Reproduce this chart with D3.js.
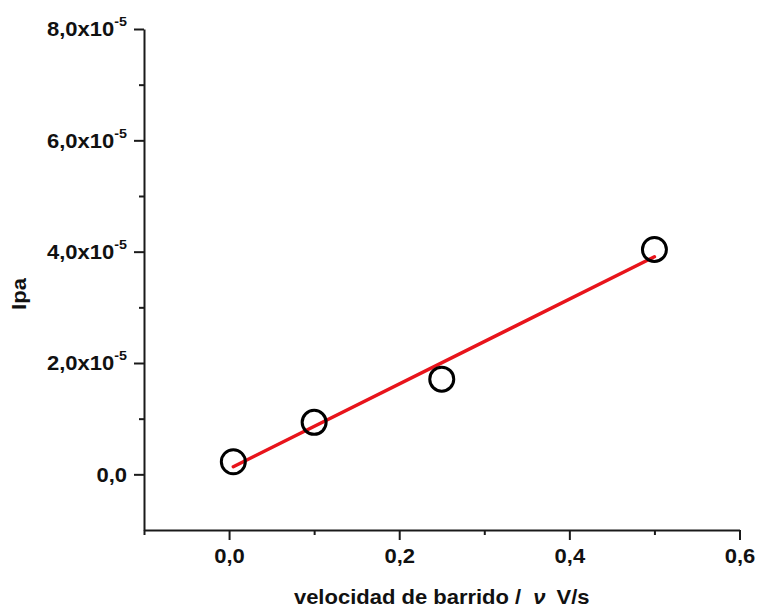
<!DOCTYPE html>
<html>
<head>
<meta charset="utf-8">
<script src="https://cdn.jsdelivr.net/npm/d3@7"></script>
<style>
  html, body { margin: 0; padding: 0; background: #fff; }
  svg { display: block; font-family: "Liberation Sans", Arial, sans-serif; font-weight: bold; }
</style>
</head>
<body>
<svg id="chart" width="760" height="608"></svg>
<script>
// Scan rate (V/s) and anodic peak current (A)
const scanRates = [0.005, 0.1, 0.25, 0.5];
const peakCurrents = [2.26e-6, 9.34e-6, 1.71e-5, 4.04e-5];

// Axis ticks
const xMajorTicks = [0.0, 0.2, 0.4, 0.6];
const xMinorTicks = [-0.1, 0.1, 0.3, 0.5];
const yMajorTicks = [0, 2e-5, 4e-5, 6e-5, 8e-5];
const yMinorTicks = [1e-5, 3e-5, 5e-5, 7e-5];
const yTickMantissa = ["0,0", "2,0", "4,0", "6,0", "8,0"];

const xTitle = "velocidad de barrido /";
const xTitleSymbol = "\u03BD";
const xTitleUnit = "V/s";
const yTitle = "Ipa";

const svg = d3.select("#chart");

const x = d3.scaleLinear().domain([-0.1, 0.6]).range([144, 739.5]);
const y = d3.scaleLinear().domain([-1e-5, 8e-5]).range([530, 29]);

const axisColor = "#1a1a1a";
const fontSize = 20;
const widen = 1.1; // labels are set slightly wide

// stretch a text element horizontally about its anchor point
function stretch(sel, ax) {
  sel.attr("transform", `translate(${ax},0) scale(${widen},1) translate(${-ax},0)`);
}

// Least-squares line through the measurements
const n = scanRates.length;
const mx = d3.mean(scanRates), my = d3.mean(peakCurrents);
let sxy = 0, sxx = 0;
for (let i = 0; i < n; i++) {
  sxy += (scanRates[i] - mx) * (peakCurrents[i] - my);
  sxx += (scanRates[i] - mx) ** 2;
}
const slope = sxy / sxx;
const intercept = my - slope * mx;
const fitX = d3.extent(scanRates);

// Minor ticks
svg.append("g")
  .attr("transform", `translate(0,${y.range()[0]})`)
  .call(d3.axisBottom(x).tickValues(xMinorTicks).tickSize(5).tickSizeOuter(0).tickFormat(""))
  .call(g => g.select(".domain").remove());
svg.append("g")
  .attr("transform", `translate(${x.range()[0]},0)`)
  .call(d3.axisLeft(y).tickValues(yMinorTicks).tickSize(5).tickSizeOuter(0).tickFormat(""))
  .call(g => g.select(".domain").remove());

// Bottom axis
const gx = svg.append("g")
  .attr("transform", `translate(0,${y.range()[0]})`)
  .call(d3.axisBottom(x).tickValues(xMajorTicks).tickSize(10).tickSizeOuter(0).tickPadding(9)
    .tickFormat(d => d3.format(".1f")(d).replace(".", ",")));

// Left axis
const gy = svg.append("g")
  .attr("transform", `translate(${x.range()[0]},0)`)
  .call(d3.axisLeft(y).tickValues(yMajorTicks).tickSize(10).tickSizeOuter(0).tickPadding(7)
    .tickFormat((d, i) => yTickMantissa[i]));

gy.selectAll(".tick text").each(function(d, i) {
  const t = d3.select(this);
  t.text(null).attr("dy", "0.34em");
  if (d === 0) {
    t.append("tspan").text(yTickMantissa[i]);
  } else {
    t.append("tspan").text(yTickMantissa[i] + "x10");
    t.append("tspan").attr("dy", -10).attr("font-size", 13).text("-5");
  }
});

[gx, gy].forEach(g => {
  g.selectAll(".domain").attr("stroke", axisColor).attr("stroke-width", 2);
  g.selectAll(".tick text").attr("font-size", fontSize).attr("font-weight", "bold")
    .attr("fill", "#111").attr("font-family", "'Liberation Sans', Arial, sans-serif")
    .each(function() {
      const t = d3.select(this);
      stretch(t, +t.attr("x") || 0);
    });
});
svg.selectAll(".tick line").attr("stroke", axisColor).attr("stroke-width", 2);

// Fitted line
svg.append("line")
  .attr("x1", x(fitX[0])).attr("y1", y(intercept + slope * fitX[0]))
  .attr("x2", x(fitX[1])).attr("y2", y(intercept + slope * fitX[1]))
  .attr("stroke", "#e8141b").attr("stroke-width", 3.5).attr("stroke-linecap", "round");

// Data points
svg.append("g").selectAll("circle")
  .data(scanRates.map((v, i) => [v, peakCurrents[i]]))
  .join("circle")
  .attr("cx", d => x(d[0])).attr("cy", d => y(d[1]))
  .attr("r", 12)
  .attr("fill", "none").attr("stroke", "#000").attr("stroke-width", 3);

// Axis titles
const xMid = (x.range()[0] + x.range()[1]) / 2;
const xt = svg.append("text")
  .attr("x", xMid).attr("y", 604)
  .attr("text-anchor", "middle").attr("font-size", fontSize).attr("fill", "#111");
xt.append("tspan").text(xTitle);
xt.append("tspan").attr("dx", 11).attr("font-style", "italic").text(xTitleSymbol);
xt.append("tspan").attr("dx", 10).text(xTitleUnit);
stretch(xt, xMid);

svg.append("text")
  .attr("transform", `translate(26,294) rotate(-90) scale(${widen},1)`)
  .attr("text-anchor", "middle").attr("font-size", fontSize).attr("fill", "#111")
  .text(yTitle);
</script>
</body>
</html>
